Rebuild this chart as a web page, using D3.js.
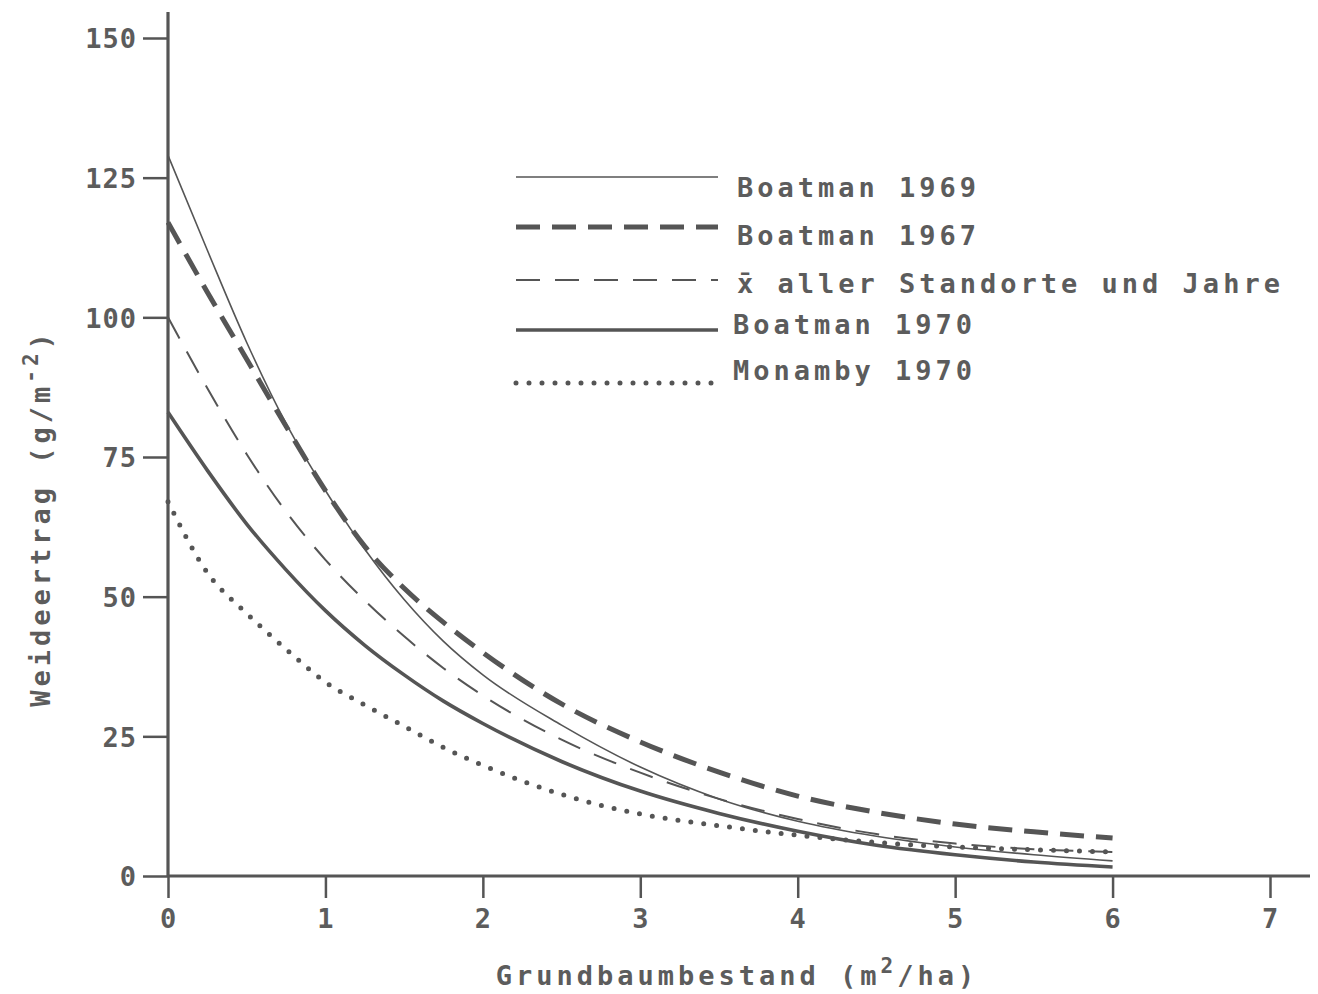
<!DOCTYPE html>
<html>
<head>
<meta charset="utf-8">
<script src="https://cdn.jsdelivr.net/npm/d3@7"></script>
<style>
  body { margin: 0; background: #fff; }
  text { font-family: "DejaVu Sans Mono", "Liberation Mono", monospace; fill: #5c5c5c; font-weight: bold; }
</style>
</head>
<body>
<div id="chart"></div>
<script>
// Grundbaumbestand (m2/ha)
var xValues = [0, 0.25, 0.5, 0.75, 1, 1.25, 1.5, 1.75, 2, 2.5, 3, 3.5, 4, 4.5, 5, 5.5, 6];

// Weideertrag (g/m-2)
var boatman1969 = [129, 112, 95.5, 81, 69, 58.5, 49.5, 42, 36, 27, 19.5, 13.8, 9.8, 7.1, 5.2, 3.8, 2.7];
var boatman1967 = [117, 104.5, 92.5, 80.5, 69, 59, 51.5, 45.4, 40, 30.8, 24, 18.6, 14.3, 11.4, 9.3, 7.9, 6.8];
var meanAll     = [100, 87.3, 75.5, 65.2, 56.6, 49.3, 42.9, 37.2, 32.3, 24.4, 18.5, 13.8, 10.2, 7.5, 5.8, 4.8, 4.3];
var boatman1970 = [83, 72.6, 63, 54.8, 47.5, 41.3, 36, 31.3, 27.3, 20.5, 15.2, 11.2, 8, 5.5, 3.8, 2.5, 1.6];
var monamby1970 = [67, 54.3, 47, 40.6, 34.7, 30.6, 26.8, 23, 19.8, 14.6, 11.1, 9, 7.3, 6, 5.2, 4.7, 4.3];

var xTicks = [0, 1, 2, 3, 4, 5, 6, 7];
var yTicks = [0, 25, 50, 75, 100, 125, 150];

var seriesNames = ["Boatman 1969", "Boatman 1967", "x\u0304 aller Standorte und Jahre", "Boatman 1970", "Monamby 1970"];
var seriesValues = [boatman1969, boatman1967, meanAll, boatman1970, monamby1970];

var styles = [
  {width: 1.6, dash: null, cap: "butt"},
  {width: 5, dash: "24 12", cap: "butt"},
  {width: 2, dash: "24 15", cap: "butt"},
  {width: 3.6, dash: null, cap: "butt"},
  {width: 5, dash: "0 13", cap: "round"}
];

var W = 1318, H = 994;
var margin = {top: 38, left: 168, right: 48, bottom: 118};
var width = 1270 - margin.left,
    height = 876 - margin.top;

var svg = d3.select("#chart").append("svg")
    .attr("width", W)
    .attr("height", H);

var g = svg.append("g")
    .attr("transform", "translate(" + margin.left + "," + margin.top + ")");

var x = d3.scaleLinear().domain([0, 7]).range([0, width]);
var y = d3.scaleLinear().domain([0, 150]).range([height, 0]);

var ink = "#555";

// axes
var xAxis = g.append("g")
    .attr("transform", "translate(0," + height + ")")
    .call(d3.axisBottom(x).tickValues(xTicks).tickFormat(d3.format("d"))
      .tickSize(22).tickSizeOuter(0).tickPadding(6));
var yAxis = g.append("g")
    .call(d3.axisLeft(y).tickValues(yTicks).tickFormat(d3.format("d"))
      .tickSize(25).tickSizeOuter(0).tickPadding(6));

[xAxis, yAxis].forEach(function(a) {
  a.select(".domain").remove();
  a.selectAll(".tick line").attr("stroke", ink).attr("stroke-width", 2.5);
  a.selectAll(".tick text")
      .style("font-size", "27px")
      .style("letter-spacing", "1px")
      .attr("fill", "#5e5e5e");
});
xAxis.selectAll(".tick text").attr("dy", "0.9em");
yAxis.selectAll(".tick text").attr("dy", "0.36em");

// axis lines, drawn a little past the last ticks like in the figure
g.append("line")
    .attr("x1", 0).attr("x2", x(7) + 40)
    .attr("y1", y(0)).attr("y2", y(0))
    .attr("stroke", ink).attr("stroke-width", 3.2);
g.append("line")
    .attr("x1", 0).attr("x2", 0)
    .attr("y1", y(0)).attr("y2", y(150) - 26)
    .attr("stroke", ink).attr("stroke-width", 3.2);

// curves
var line = d3.line()
    .x(function(d) { return x(d[0]); })
    .y(function(d) { return y(d[1]); })
    .curve(d3.curveMonotoneX);

seriesValues.forEach(function(vals, i) {
  var pts = xValues.map(function(xv, j) { return [xv, vals[j]]; });
  g.append("path")
      .datum(pts)
      .attr("d", line)
      .attr("fill", "none")
      .attr("stroke", ink)
      .attr("stroke-width", styles[i].width)
      .attr("stroke-dasharray", styles[i].dash)
      .attr("stroke-linecap", styles[i].cap);
});

// legend
var legendLineY = [177, 227, 280, 330, 383];
var legendTextY = [197, 245, 293, 334, 380];
var legendTextX = [737, 737, 737, 733, 733];
var legend = svg.append("g");
seriesNames.forEach(function(name, i) {
  legend.append("line")
      .attr("x1", 516).attr("x2", 718)
      .attr("y1", legendLineY[i]).attr("y2", legendLineY[i])
      .attr("stroke", ink)
      .attr("stroke-width", styles[i].width)
      .attr("stroke-dasharray", styles[i].dash)
      .attr("stroke-linecap", styles[i].cap);
  legend.append("text")
      .attr("x", legendTextX[i]).attr("y", legendTextY[i])
      .style("font-size", "27px")
      .style("letter-spacing", "4px")
      .text(name);
});

// axis titles
var xt = svg.append("text")
    .attr("x", 737).attr("y", 985)
    .attr("text-anchor", "middle")
    .style("font-size", "27px")
    .style("letter-spacing", "4px");
xt.append("tspan").text("Grundbaumbestand (m");
xt.append("tspan").attr("dy", -12).style("font-size", "21px").text("2");
xt.append("tspan").attr("dy", 12).text("/ha)");

var yt = svg.append("text")
    .attr("transform", "translate(50,518) rotate(-90)")
    .attr("text-anchor", "middle")
    .style("font-size", "27px")
    .style("letter-spacing", "4px");
yt.append("tspan").text("Weideertrag (g/m");
yt.append("tspan").attr("dy", -12).style("font-size", "21px").text("-2");
yt.append("tspan").attr("dy", 12).text(")");
</script>
</body>
</html>
